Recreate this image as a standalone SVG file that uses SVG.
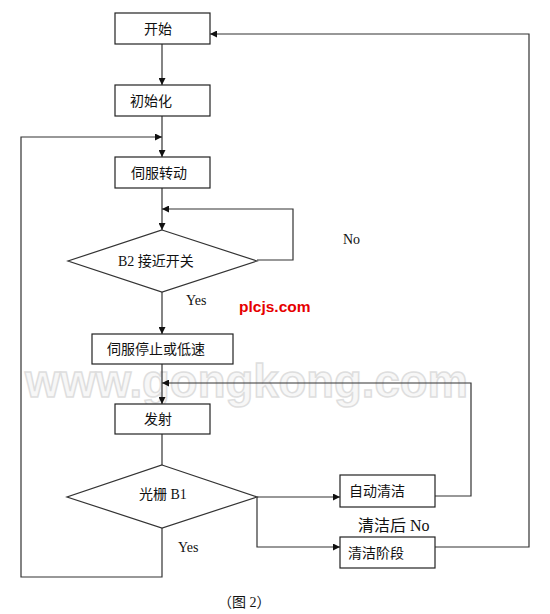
<svg xmlns="http://www.w3.org/2000/svg" width="550" height="614" viewBox="0 0 550 614">
<style>
.box{fill:#fff;stroke:#222;stroke-width:1.2}
.dia{fill:#fff;stroke:#333;stroke-width:1.2}
.ln{fill:none;stroke:#333;stroke-width:1.2}
.t{font-family:"Liberation Serif","Noto Sans CJK SC",serif;font-size:14px;fill:#111;dominant-baseline:central}
.lbl{font-family:"Liberation Serif","Noto Sans CJK SC",serif;font-size:14px;fill:#111;dominant-baseline:central}
.wm{font-family:"Liberation Sans",Arial,sans-serif;font-weight:bold;font-size:46px;fill:#f7f7f7;stroke:#dedede;stroke-width:1.5}
.red{font-family:"Liberation Sans",Arial,sans-serif;font-weight:bold;font-size:15.5px;fill:#e60000;dominant-baseline:central}
</style>
<defs>
<marker id="arr" viewBox="0 0 10 10" refX="10" refY="5" markerWidth="7" markerHeight="7" markerUnits="userSpaceOnUse" orient="auto">
<path d="M0,0 L10,5 L0,10 z" fill="#111"/>
</marker>
</defs>
<rect width="550" height="614" fill="#fff"/>
<text class="wm" x="25" y="397" textLength="443" lengthAdjust="spacingAndGlyphs">www.gongkong.com</text>
<g id="connectors">
<path class="ln" d="M162,44 V85" marker-end="url(#arr)"/>
<path class="ln" d="M162,116 V157" marker-end="url(#arr)"/>
<path class="ln" d="M162,528 V577 H21 V137 H162" marker-end="url(#arr)"/>
<path class="ln" d="M162,188 V230" marker-end="url(#arr)"/>
<path class="ln" d="M257,260 H293 V209 H162" marker-end="url(#arr)"/>
<path class="ln" d="M162,292 V334" marker-end="url(#arr)"/>
<path class="ln" d="M162,364 V404" marker-end="url(#arr)"/>
<path class="ln" d="M162,434 V465"/>
<path class="ln" d="M257,497 H340" marker-end="url(#arr)"/>
<path class="ln" d="M257,497 V547 H340" marker-end="url(#arr)"/>
<path class="ln" d="M435,496 H471 V383 H162" marker-end="url(#arr)"/>
<path class="ln" d="M435,547 H529 V34 H210" marker-end="url(#arr)"/>
</g>
<g id="start"><rect class="box" x="115" y="13" width="95" height="31"/><text class="t" x="144" y="29">开始</text></g>
<g id="init"><rect class="box" x="115" y="85" width="95" height="31"/><text class="t" x="130" y="101">初始化</text></g>
<g id="servo-run"><rect class="box" x="115" y="157" width="95" height="31"/><text class="t" x="131" y="173">伺服转动</text></g>
<g id="b2"><polygon class="dia" points="162,230 257,261 162,292 68,261"/><text class="t" x="118" y="261">B2 接近开关</text></g>
<g id="servo-stop"><rect class="box" x="92" y="334" width="141" height="30"/><text class="t" x="107" y="349">伺服停止或低速</text></g>
<g id="fire"><rect class="box" x="115" y="404" width="95" height="30"/><text class="t" x="144" y="419">发射</text></g>
<g id="b1"><polygon class="dia" points="162,465 257,497 162,528 67,497"/><text class="t" x="139" y="494">光栅 B1</text></g>
<g id="autoclean"><rect class="box" x="340" y="475" width="95" height="32"/><text class="t" x="349" y="491">自动清洁</text></g>
<g id="cleanstage"><rect class="box" x="340" y="537" width="95" height="31"/><text class="t" x="348" y="553">清洁阶段</text></g>
<g id="labels">
<text class="lbl" x="343" y="239">No</text>
<text class="lbl" x="186" y="300">Yes</text>
<text class="lbl" x="178" y="547">Yes</text>
<text class="lbl" x="358" y="525" style="font-size:16px">清洁后 No</text>
<text class="lbl" x="218" y="602">（图 2）</text>
<text class="red" x="239" y="306">plcjs.com</text>
</g>
</svg>
